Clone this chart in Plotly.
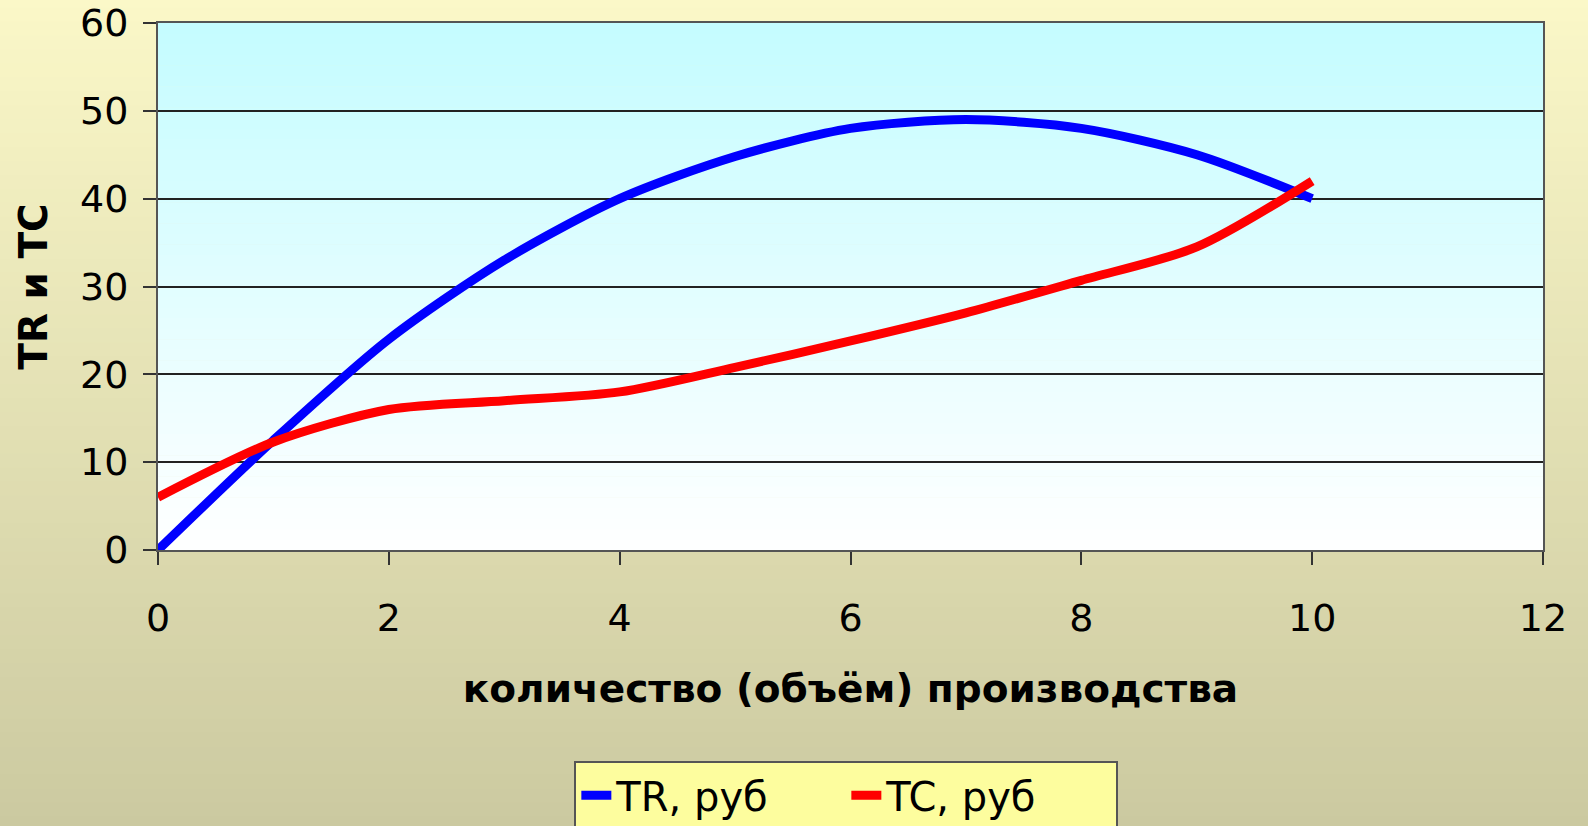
import plotly.graph_objects as go

# ---- data ----
quantity = [0, 1, 2, 3, 4, 5, 6, 7, 8, 9, 10]
tr_values = [0, 12.5, 24, 33, 40, 44.8, 48, 49, 48, 45, 40]
tc_values = [6, 12.3, 16, 17, 18, 20.8, 23.8, 27, 30.7, 34.5, 42]
series_names = ["TR, руб", "TC, руб"]
x_title = "количество (объём) производства"
y_title = "TR и TC"

W, H = 1588, 826
ml, mr, mt, mb = 158, 45, 23, 276
pw, ph = W - ml - mr, H - mt - mb

fig = go.Figure()
fig.add_trace(go.Scatter(x=quantity, y=tr_values, name=series_names[0], mode="lines",
                         line=dict(color="#0000ff", width=9, shape="spline", smoothing=0.8)))
fig.add_trace(go.Scatter(x=quantity, y=tc_values, name=series_names[1], mode="lines",
                         line=dict(color="#ff0000", width=9, shape="spline", smoothing=0.8)))

def lerp(c1, c2, t):
    return "rgb(%d,%d,%d)" % tuple(round(a + (b - a) * t) for a, b in zip(c1, c2))

shapes = []
# page background gradient
top_c, bot_c = (251, 248, 200), (203, 201, 160)
y_top = 1 + mt / ph + 0.01
y_bot = -mb / ph - 0.01
n = 60
for i in range(n):
    y0 = y_top - (y_top - y_bot) * i / n
    y1 = y_top - (y_top - y_bot) * (i + 1) / n
    shapes.append(dict(type="rect", xref="paper", yref="paper",
                       x0=-ml / pw - 0.01, x1=1 + mr / pw + 0.01, y0=y1 - 0.002, y1=y0 + 0.002,
                       fillcolor=lerp(top_c, bot_c, (i + 0.5) / n), line=dict(width=0),
                       layer="below"))
# plot area gradient
ptop, pbot = (196, 252, 255), (255, 255, 255)
m = 50
for i in range(m):
    y0 = 1 - i / m
    y1 = 1 - (i + 1) / m
    shapes.append(dict(type="rect", xref="paper", yref="paper",
                       x0=0, x1=1, y0=y1 - 0.001, y1=y0,
                       fillcolor=lerp(ptop, pbot, (i + 0.5) / m), line=dict(width=0),
                       layer="below"))

font_family = "DejaVu Sans"
fig.update_layout(
    width=W, height=H,
    margin=dict(l=ml, r=mr, t=mt, b=mb, autoexpand=False),
    paper_bgcolor="#e6e2b4",
    plot_bgcolor="rgba(0,0,0,0)",
    shapes=shapes,
    font=dict(family=font_family, color="black", size=38),
    showlegend=True,
    legend=dict(orientation="h", x=0.497, xanchor="center", y=-0.4, yanchor="top",
                bgcolor="#fdfd9e", bordercolor="#555555", borderwidth=2,
                font=dict(size=40, family=font_family),
                entrywidth=225, entrywidthmode="pixels",
                tracegroupgap=0),
    xaxis=dict(range=[0, 12], dtick=2, tick0=0, showgrid=False, zeroline=False,
               automargin=False,
               showline=True, linecolor="#555555", linewidth=2, mirror=True,
               ticks="outside", ticklen=13, tickcolor="#333333", tickwidth=2,
               ticklabelstandoff=20,
               tickfont=dict(size=38, family=font_family),
               title=dict(text="<b>" + x_title + "</b>", font=dict(size=39, family=font_family),
                          standoff=36)),
    yaxis=dict(range=[0, 60], dtick=10, tick0=0, showgrid=True, gridcolor="#222222",
               gridwidth=1.5, zeroline=False, automargin=False,
               showline=True, linecolor="#555555", linewidth=2, mirror=True,
               ticks="outside", ticklen=13, tickcolor="#333333", tickwidth=2,
               ticklabelstandoff=7,
               tickfont=dict(size=38, family=font_family),
               title=dict(text="<b>" + y_title + "</b>", font=dict(size=39, family=font_family),
                          standoff=20)),
)

fig.write_html("out.html", config={"displayModeBar": False},
               post_script="document.body.style.margin='0';document.body.style.overflow='hidden';")
